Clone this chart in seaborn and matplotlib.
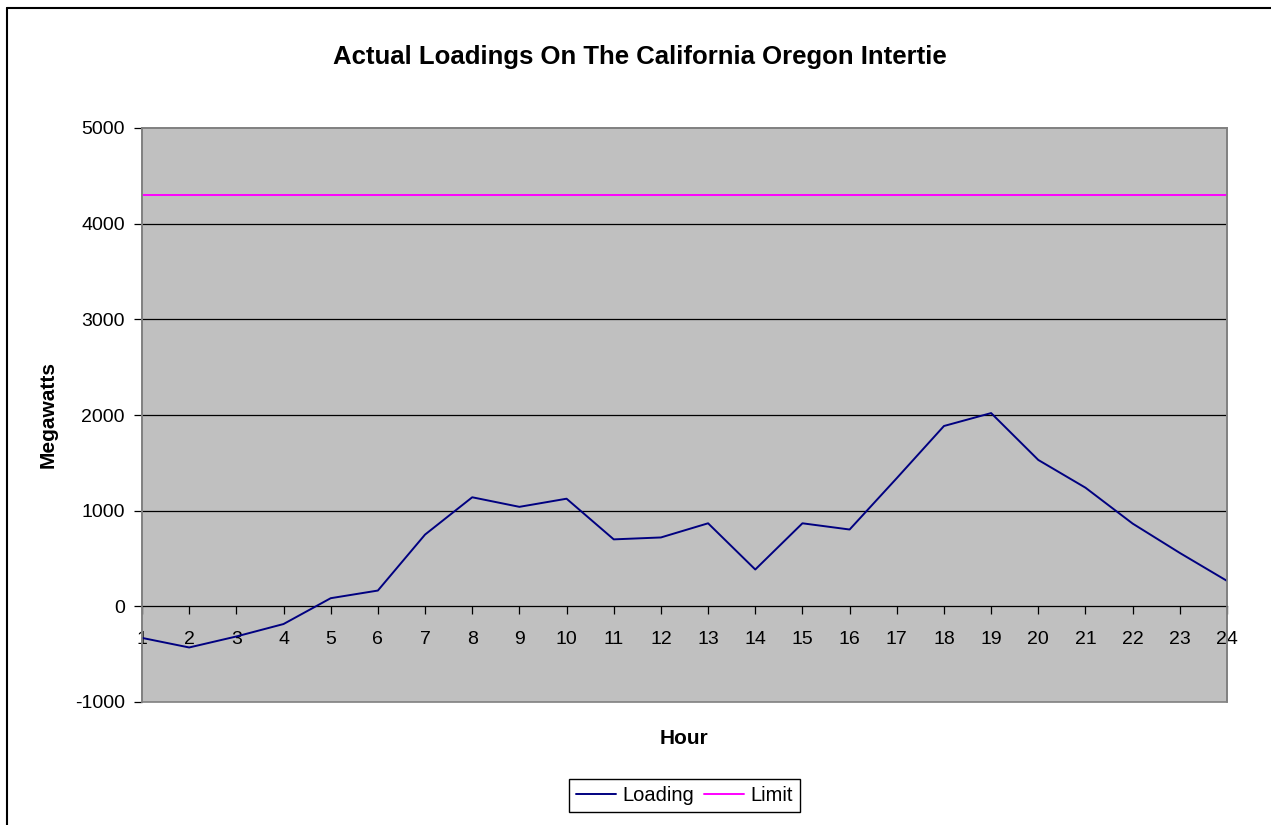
import numpy as np
import pandas as pd
import matplotlib
matplotlib.use("Agg")
import matplotlib.pyplot as plt
import seaborn as sns
from matplotlib.patches import Rectangle
from matplotlib.lines import Line2D

# --- DATA ---
hours = list(range(1, 25))
loading = [-330, -430, -315, -185, 85, 165, 750, 1140, 1040, 1125, 700, 720,
           868, 385, 868, 803, 1340, 1885, 2020, 1530, 1240, 865, 558, 266]
limit = [4300] * 24
y_ticks = [-1000, 0, 1000, 2000, 3000, 4000, 5000]

df = pd.DataFrame({
    "Hour": hours * 2,
    "Megawatts": loading + limit,
    "Series": ["Loading"] * 24 + ["Limit"] * 24,
})

# --- PLOTTING ---
sns.set_style("white")
plt.rcParams["font.family"] = ["Liberation Sans", "DejaVu Sans"]
plt.rcParams["axes.unicode_minus"] = False
plt.rcParams["text.color"] = "black"
plt.rcParams["xtick.color"] = "black"
plt.rcParams["ytick.color"] = "black"

W, H = 1271, 825
fig = plt.figure(figsize=(W / 100, H / 100), dpi=100)
ax = fig.add_axes([142 / W, 1 - 702 / H, (1227 - 142) / W, (702 - 128) / H])
ax.set_facecolor("#c0c0c0")

# horizontal gridlines
for v in y_ticks[2:-1]:
    ax.axhline(v, color="black", lw=0.9, zorder=1)

sns.lineplot(data=df, x="Hour", y="Megawatts", hue="Series",
             palette={"Loading": "#000080", "Limit": "#ff00ff"},
             linewidth=1.4, ax=ax, zorder=3)

ax.set_xlim(1, 24)
ax.set_ylim(-1000, 5000)
ax.set_xticks(hours)
ax.set_yticks(y_ticks)

# category axis crosses at zero, like the original
ax.spines["bottom"].set_position(("data", 0))
ax.spines["bottom"].set_color("black")
ax.spines["bottom"].set_linewidth(0.9)
for s in ["left", "top", "right"]:
    ax.spines[s].set_color("#808080")
    ax.spines[s].set_linewidth(1.2)
ax.add_patch(Rectangle((0, 0), 1, 1, transform=ax.transAxes, fill=False,
                       edgecolor="#808080", lw=1.2, zorder=4, clip_on=False))

ax.tick_params(axis="x", direction="out", length=5.5, width=0.9,
               pad=12, labelsize=14, bottom=True)
ax.tick_params(axis="y", direction="out", length=6, width=0.9,
               pad=6.5, labelsize=14, left=True)

ax.set_xlabel("")
ax.set_ylabel("")
fig.text(684 / W, 1 - 739 / H, "Hour", ha="center", va="center",
         fontsize=15, fontweight="bold")
fig.text(48 / W, 1 - 415 / H, "Megawatts", ha="center", va="center",
         rotation=90, fontsize=15, fontweight="bold")
fig.text(640 / W, 1 - 57 / H, "Actual Loadings On The California Oregon Intertie",
         ha="center", va="center", fontsize=18.5, fontweight="bold")

sns.move_legend(ax, "center", bbox_to_anchor=(0.5, (702 - 795.5) / 574),
                ncol=2, title=None, frameon=True, fancybox=False,
                edgecolor="black", framealpha=1, fontsize=14.5,
                handlelength=2.0, handletextpad=0.3, columnspacing=0.5,
                borderpad=0.35)
leg = ax.get_legend()
leg.get_frame().set_linewidth(1.0)

# outer chart border
fig.add_artist(Line2D([7 / W, 1], [1 - 8 / H, 1 - 8 / H], color="black", lw=1.5))
fig.add_artist(Line2D([7 / W, 7 / W], [0, 1 - 8 / H], color="black", lw=1.5))

fig.savefig("out.png", dpi=100)
